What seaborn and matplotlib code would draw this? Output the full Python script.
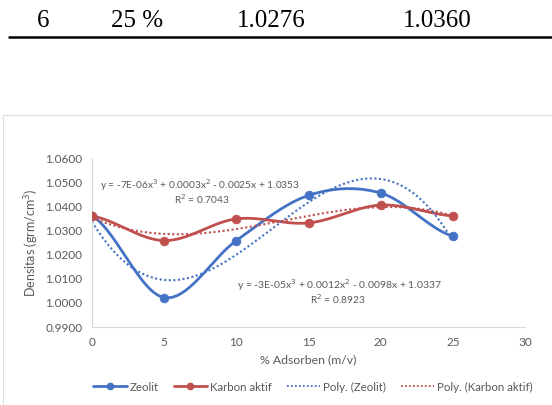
import numpy as np
import pandas as pd
import matplotlib
matplotlib.use("Agg")
import matplotlib.pyplot as plt
import seaborn as sns
from matplotlib.lines import Line2D
from matplotlib.patches import Rectangle

# data
adsorben = [0, 5, 10, 15, 20, 25]
zeolit = [1.0360, 1.0022, 1.0258, 1.0445, 1.0455, 1.0276]
karbon = [1.0360, 1.0258, 1.0348, 1.0331, 1.0405, 1.0360]
table_row = ["6", "25 %", "1.0276", "1.0360"]
yticks = [0.99, 1.00, 1.01, 1.02, 1.03, 1.04, 1.05, 1.06]
xticks = [0, 5, 10, 15, 20, 25, 30]
eq_zeolit = "y = -3E-05x$^3$ + 0.0012x$^2$ - 0.0098x + 1.0337"
r2_zeolit = "R$^2$ = 0.8923"
eq_karbon = "y = -7E-06x$^3$ + 0.0003x$^2$ - 0.0025x + 1.0353"
r2_karbon = "R$^2$ = 0.7043"

blue = "#4472C4"
red = "#C0504D"
grey = "#595959"


def smooth(x, y, n=30):
    # catmull-rom like Excel's smoothed line
    x = np.asarray(x, float)
    y = np.asarray(y, float)
    px = np.concatenate([[2 * x[0] - x[1]], x, [2 * x[-1] - x[-2]]])
    py = np.concatenate([[y[0]], y, [y[-1]]])
    xs, ys = [], []
    for i in range(1, len(px) - 2):
        t = np.linspace(0, 1, n)
        for p, out in ((px, xs), (py, ys)):
            p0, p1, p2, p3 = p[i - 1], p[i], p[i + 1], p[i + 2]
            out.append(0.5 * (2 * p1 + (-p0 + p2) * t
                              + (2 * p0 - 5 * p1 + 4 * p2 - p3) * t ** 2
                              + (-p0 + 3 * p1 - 3 * p2 + p3) * t ** 3))
    return np.concatenate(xs), np.concatenate(ys)


sns.set_style("white")
plt.rcParams["font.family"] = ["Lato", "DejaVu Sans"]

fig = plt.figure(figsize=(5.52, 4.05), dpi=100)

# table row above the chart
for txt, xp in zip(table_row, [43, 137, 271, 437]):
    fig.text(xp / 552, 1 - 21 / 405, txt, family="Liberation Serif", fontsize=18,
             ha="center", va="center", color="black")
fig.add_artist(Line2D([9 / 552, 1], [1 - 37 / 405] * 2, color="black", lw=1.8))

# chart border
fig.add_artist(Rectangle((3 / 552, -0.01), 1.0, 1 - 115 / 405 + 0.01, fill=False,
                         edgecolor="#D6E0EA", lw=0.8))

ax = fig.add_axes([92 / 552, 1 - 327 / 405, (525 - 92) / 552, (327 - 158) / 405])

zx, zy = smooth(adsorben, zeolit)
kx, ky = smooth(adsorben, karbon)
sns.lineplot(x=zx, y=zy, ax=ax, color=blue, lw=2, sort=False)
sns.lineplot(x=kx, y=ky, ax=ax, color=red, lw=2, sort=False)

xf = np.linspace(0, 25, 200)
zfit = np.polyval(np.polyfit(adsorben, zeolit, 3), xf)
kfit = np.polyval(np.polyfit(adsorben, karbon, 3), xf)
sns.lineplot(x=xf, y=zfit, ax=ax, color=blue, lw=1.5, linestyle=(0, (1, 1.2)))
sns.lineplot(x=xf, y=kfit, ax=ax, color=red, lw=1.5, linestyle=(0, (1, 1.2)))

sns.scatterplot(x=adsorben, y=zeolit, ax=ax, color=blue, s=40, edgecolor=blue, zorder=5)
sns.scatterplot(x=adsorben, y=karbon, ax=ax, color=red, s=40, edgecolor=red, zorder=5)

ax.set_xlim(0, 30)
ax.set_ylim(0.99, 1.06)
ax.set_xticks(xticks)
ax.set_yticks(yticks)
ax.set_yticklabels([f"{v:.4f}" for v in yticks])
ax.tick_params(axis="both", length=0, labelsize=8.5, colors=grey, pad=7)
for s in ["top", "right"]:
    ax.spines[s].set_visible(False)
for s in ["left", "bottom"]:
    ax.spines[s].set_color("#D9D9D9")
    ax.spines[s].set_linewidth(0.8)
ax.set_xlabel("% Adsorben (m/v)", fontsize=8.8, color=grey, labelpad=5)
ax.set_ylabel("Densitas (grm/cm$^3$)", fontsize=9, color=grey, labelpad=3)

ax.text(0.55, 1.0488, eq_karbon, fontsize=7.3, color=grey, va="center")
ax.text(7.6, 1.0429, r2_karbon, fontsize=7.3, color=grey, va="center", ha="center")
ax.text(10.05, 1.0074, eq_zeolit, fontsize=7.5, color=grey, va="center")
ax.text(17.05, 1.0017, r2_zeolit, fontsize=7.3, color=grey, va="center", ha="center")

handles = [
    Line2D([], [], color=blue, lw=2, marker="o", ms=4.5),
    Line2D([], [], color=red, lw=2, marker="o", ms=4.5),
    Line2D([], [], color=blue, lw=1.3, linestyle=(0, (1, 1.2))),
    Line2D([], [], color=red, lw=1.3, linestyle=(0, (1, 1.2))),
]
labels = ["Zeolit", "Karbon aktif", "Poly. (Zeolit)", "Poly. (Karbon aktif)"]
fig.legend(handles, labels, loc="center", bbox_to_anchor=(313 / 552, 1 - 387 / 405),
           ncol=4, frameon=False, fontsize=8.3, labelcolor=grey, handlelength=2.9,
           columnspacing=1.3, handletextpad=0.25)

fig.savefig("out.png", dpi=100)
